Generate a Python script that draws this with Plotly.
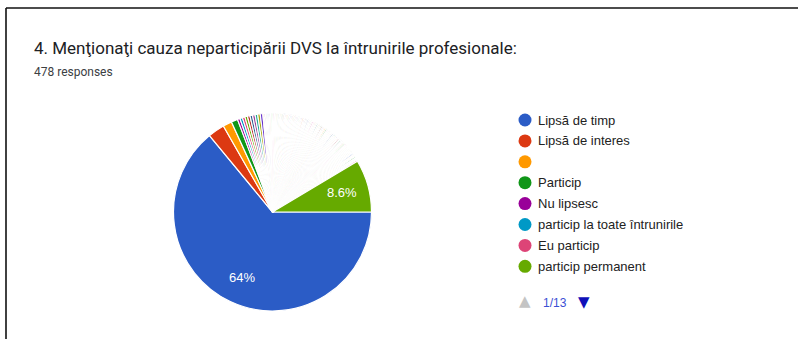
import math
import plotly.graph_objects as go

# ---- data ----
TITLE = "4. Menţionaţi cauza neparticipării DVS la întrunirile profesionale:"
SUBTITLE = "478 responses"
legend_labels = ["Lipsă de timp", "Lipsă de interes", "", "Particip", "Nu lipsesc",
                 "particip la toate întrunirile", "Eu particip", "particip permanent"]
# responses per answer, in chart order (first 8 are the labelled ones on legend page 1/13)
counts_top = [306, 13, 7, 5, 2, 2, 2, 2]
counts_small = [2, 2, 2, 2, 2, 2, 1]
counts_single = [1] * 85
counts_last = [41]
page_label = "1/13"

palette = ["#2b5cc6", "#dc3912", "#ff9900", "#109618", "#990099", "#0099c6", "#dd4477",
           "#66aa00", "#b82e2e", "#316395", "#994499", "#22aa99", "#aaaa11", "#6633cc",
           "#e67300", "#8b0707", "#651067", "#329262", "#5574a6", "#3b3eac", "#b77322",
           "#16d620", "#b91383", "#f4359e", "#9c5935", "#a9c413", "#2a778d", "#668d1c",
           "#bea413", "#0c5922", "#743411"]

values = counts_top + counts_small + counts_single + counts_last
n = len(values)
labels = legend_labels + [f"răspuns {i + 1}" for i in range(len(legend_labels), n)]
labels[2] = " "  # empty answer (needs a unique key)
colors = [palette[i % len(palette)] for i in range(n)]
total = sum(values)

W, H = 798, 339
cx, cy, r = 272.5, 212.0, 99.0

fig = go.Figure()
fig.add_trace(go.Pie(
    labels=labels, values=values, sort=False, direction="clockwise", rotation=90,
    marker=dict(colors=colors, line=dict(color="white", width=1.2)),
    textinfo="none",
    domain=dict(x=[(cx - r) / W, (cx + r) / W], y=[1 - (cy + r) / H, 1 - (cy - r) / H]),
    showlegend=False, hoverinfo="label+value+percent",
))

annotations = []
# percentage labels (Google-style) for slices >= 5 %, placed at the slice mid-angle
cum = 0
for v in values:
    p = v / total * 100
    mid = (cum + v / 2) / total * 360.0  # clockwise from 3 o'clock
    cum += v
    if p >= 5:
        rr = 0.73 * r
        px = cx + rr * math.cos(math.radians(mid))
        py = cy + rr * math.sin(math.radians(mid))
        annotations.append(dict(x=px / W, y=1 - py / H, xref="paper", yref="paper",
                                text=f"{p:.2g}%", showarrow=False, xanchor="center",
                                yanchor="middle",
                                font=dict(family="Liberation Sans, Arial", size=13, color="white")))

# legend page (first 8 entries)
idx = list(range(len(legend_labels)))
fig.add_trace(go.Scatter(
    x=[0] * len(idx), y=idx, mode="markers",
    marker=dict(size=13, color=colors[:len(idx)]),
    xaxis="x2", yaxis="y2", showlegend=False, hoverinfo="skip",
))
for i, lab in zip(idx, legend_labels):
    annotations.append(dict(x=0, y=i, xref="x2", yref="y2", text=lab, showarrow=False,
                            xanchor="left", yanchor="middle", xshift=11,
                            font=dict(family="Liberation Sans, Arial", size=13, color="#222222")))

legx = 525.0
y0, dy = 120.0, 20.9
annotations += [
    dict(x=32 / W, y=1 - 47.5 / H, xref="paper", yref="paper", text=TITLE, showarrow=False,
         xanchor="left", yanchor="middle", font=dict(family="Roboto", size=17, color="#202124")),
    dict(x=32 / W, y=1 - 72.5 / H, xref="paper", yref="paper", text=SUBTITLE, showarrow=False,
         xanchor="left", yanchor="middle", font=dict(family="Roboto", size=12, color="#3c4043")),
    dict(x=525 / W, y=1 - 301 / H, xref="paper", yref="paper", text="▲", showarrow=False,
         xanchor="center", yanchor="middle", font=dict(family="DejaVu Sans", size=15, color="#c4c4c4")),
    dict(x=541 / W, y=1 - 302.5 / H, xref="paper", yref="paper", text=page_label, showarrow=False,
         xanchor="left", yanchor="middle", font=dict(family="Liberation Sans, Arial", size=12, color="#3b4fd4")),
    dict(x=583.5 / W, y=1 - 302 / H, xref="paper", yref="paper", text="▼", showarrow=False,
         xanchor="center", yanchor="middle", font=dict(family="DejaVu Sans", size=15, color="#1010b8")),
]

shapes = [
    dict(type="line", xref="paper", yref="paper", x0=6 / W, x1=1, y0=1 - 8 / H, y1=1 - 8 / H,
         line=dict(color="#111111", width=1.6)),
    dict(type="line", xref="paper", yref="paper", x0=6 / W, x1=6 / W, y0=1 - 8 / H, y1=0,
         line=dict(color="#111111", width=1.6)),
]

fig.update_layout(
    width=W, height=H, margin=dict(l=0, r=0, t=0, b=0),
    paper_bgcolor="white", plot_bgcolor="white",
    xaxis2=dict(domain=[(legx - 50) / W, (legx + 50) / W], range=[-1, 1], visible=False,
                anchor="y2", fixedrange=True),
    yaxis2=dict(domain=[0, 1], range=[(H - y0) / dy, -y0 / dy], visible=False,
                anchor="x2", fixedrange=True),
    xaxis=dict(visible=False), yaxis=dict(visible=False),
    annotations=annotations, shapes=shapes,
)

fig.write_html("out.html")
